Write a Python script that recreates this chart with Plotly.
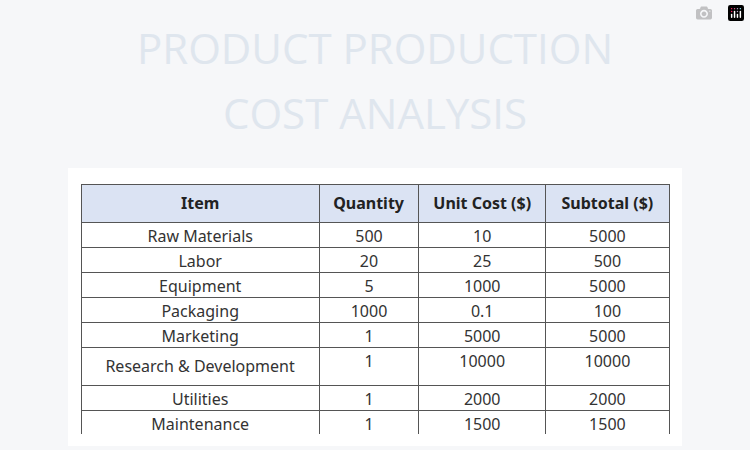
import plotly.graph_objects as go

items = ["Raw Materials", "Labor", "Equipment", "Packaging", "Marketing",
         "Research & Development", "Utilities", "Maintenance", "Total Cost"]
quantity = ["500", "20", "5", "1000", "1", "1", "1", "1", "-"]
unit_cost = ["10", "25", "1000", "0.1", "5000", "10000", "2000", "1500", "-"]
subtotal = ["5000", "500", "5000", "100", "5000", "10000", "2000", "1500", "27100"]
headers = ["Item", "Quantity", "Unit Cost ($)", "Subtotal ($)"]

W, H = 750, 450
nb = lambda s: s.replace(" ", "\u00a0")  # keep plotly from wrapping cell text

fig = go.Figure()

fig.add_trace(go.Table(
    domain=dict(x=[81 / W, 669 / W], y=[1 - 434 / H, 1 - 184 / H]),
    columnwidth=[238, 99, 127, 123],
    header=dict(
        values=[f"<b>{nb(h)}</b>" for h in headers],
        fill_color="#dbe3f3",
        line=dict(color="#555555", width=1),
        font=dict(family="Noto Sans", size=16, color="#222222"),
        align="center",
        height=25,
    ),
    cells=dict(
        values=[[nb(s) for s in items], quantity, unit_cost, subtotal],
        fill_color="white",
        line=dict(color="#555555", width=1),
        font=dict(family="Noto Sans", size=16, color="#333333"),
        align="center",
        height=25,
    ),
))

# white card behind the table
fig.add_shape(type="rect", xref="paper", yref="paper",
              x0=68 / W, x1=682 / W, y0=1 - 446 / H, y1=1 - 168 / H,
              fillcolor="white", line=dict(width=0), layer="below")

for txt, y in [("PRODUCT PRODUCTION", 47), ("COST ANALYSIS", 112)]:
    fig.add_annotation(text=txt, xref="paper", yref="paper",
                       x=0.5, y=1 - y / H, yanchor="middle", showarrow=False,
                       font=dict(family="Open Sans", size=42, color="#dfe6ee"))

fig.update_layout(
    width=W, height=H,
    margin=dict(l=0, r=0, t=0, b=0),
    paper_bgcolor="#f6f7f9",
    plot_bgcolor="#f6f7f9",
)

fig.write_html("out.html", post_script="document.body.style.margin='0';")
